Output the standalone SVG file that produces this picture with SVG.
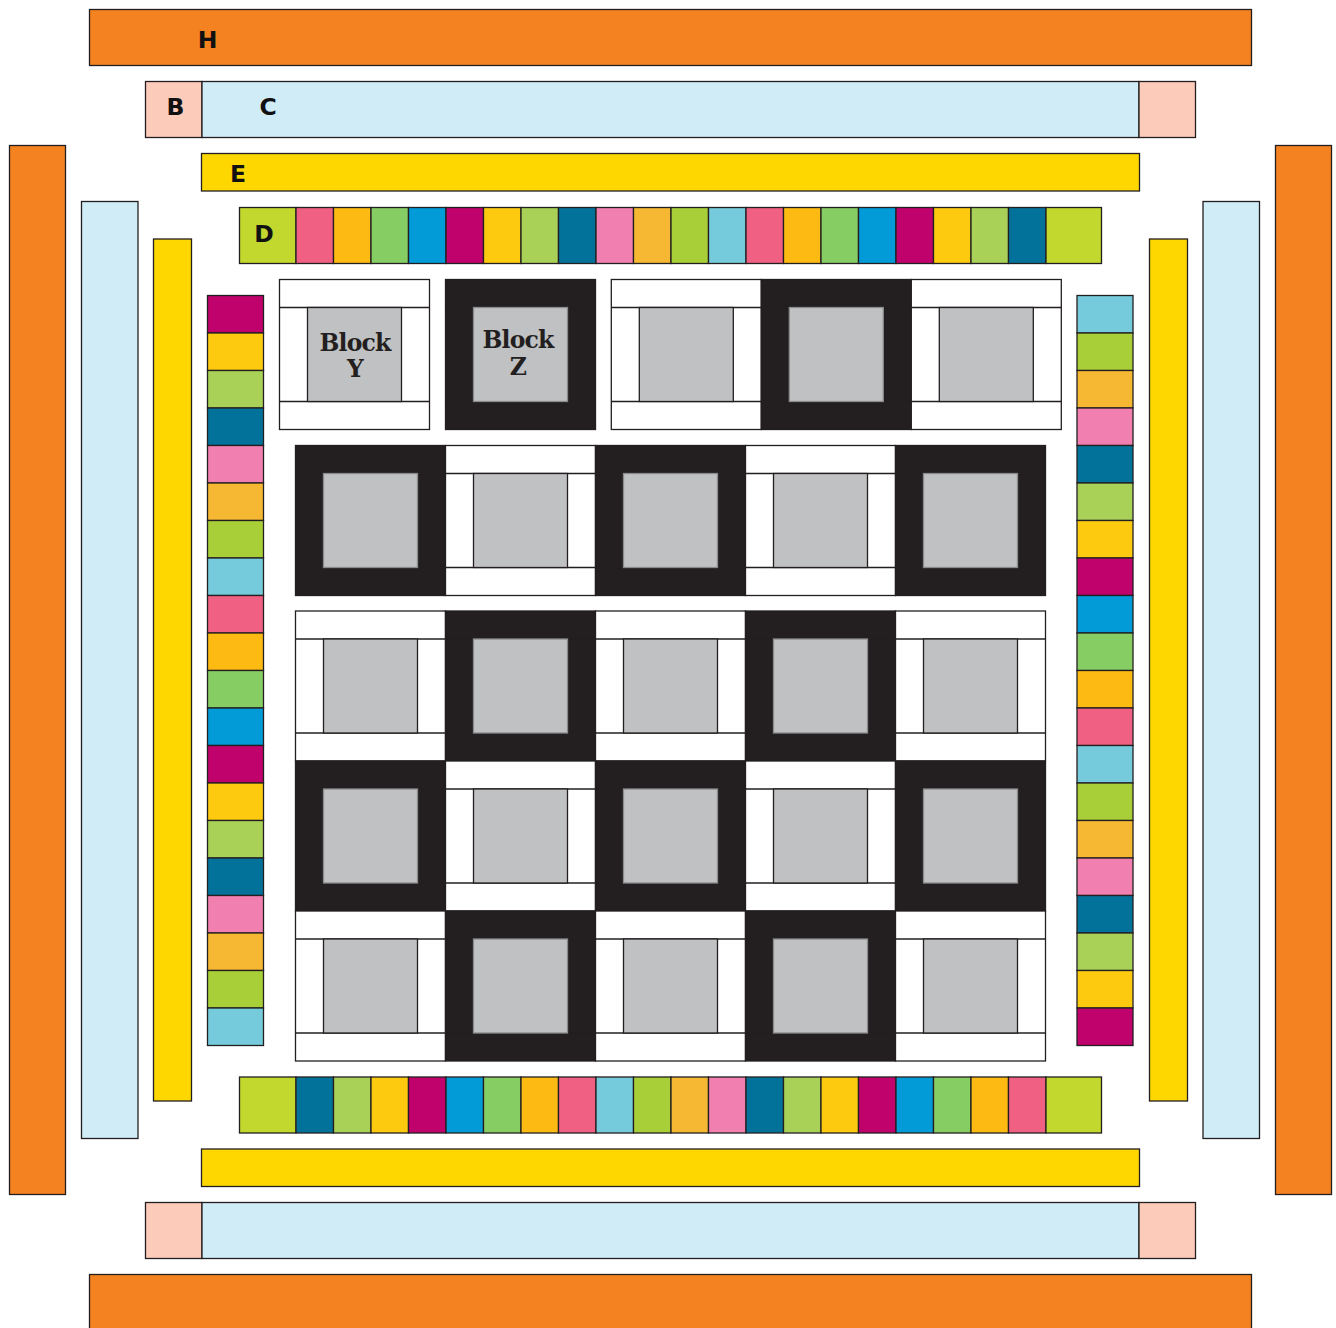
<svg xmlns="http://www.w3.org/2000/svg" xmlns:xlink="http://www.w3.org/1999/xlink" width="1336" height="1328" viewBox="0 0 1336 1328">
<style>
rect, line { stroke:#231f20; stroke-width:1.3; }
.or { fill:#F58220; }
.lb { fill:#D0ECF7; }
.pe { fill:#FDCBBA; }
.ye { fill:#FED700; }
.li { fill:#C2D82F; }
.P { fill:#F06083; }
.O { fill:#FDBA12; }
.G { fill:#86CE63; }
.Bl { fill:#029BD7; }
.M { fill:#C0026D; }
.Y2 { fill:#FDCA0F; }
.LG { fill:#A9D157; }
.T { fill:#03729B; }
.Pk { fill:#F180B0; }
.A { fill:#F6B833; }
.Ol { fill:#A9CF38; }
.Cy { fill:#75CBDB; }
.gr { fill:#C0C1C3; }
.wh { fill:#FFFFFF; }
.bk { fill:#231F20; }
.lbl { font-family:"DejaVu Sans","Liberation Sans",sans-serif; font-weight:bold; font-size:23.5px; fill:#111; text-anchor:middle; }
.blk { font-family:"DejaVu Serif","Liberation Serif",serif; font-weight:bold; font-size:23.5px; letter-spacing:-0.8px; fill:#231F20; text-anchor:middle; }
</style>
<defs>
  <g id="wblock">
    <rect class="wh" x="0" y="0" width="150" height="150"/>
    <line x1="0" y1="28" x2="150" y2="28"/>
    <line x1="0" y1="122" x2="150" y2="122"/>
    <rect class="gr" x="28" y="28" width="94" height="94"/>
  </g>
  <g id="bblock">
    <rect class="bk" x="0" y="0" width="150" height="150"/>
    <line x1="0" y1="28" x2="150" y2="28"/>
    <line x1="0" y1="122" x2="150" y2="122"/>
    <rect class="gr" x="28" y="28" width="94" height="94" style="stroke:#8a8a8c"/>
  </g>
</defs>
<rect x="0" y="0" width="1336" height="1328" fill="#FFFFFF" style="stroke:none"/>

<!-- outer borders -->
<g id="border-H-top"><rect class="or" x="89.5" y="9.5" width="1162" height="56"/><text class="lbl" x="207.5" y="48">H</text></g>
<g id="border-H-bottom"><rect class="or" x="89.5" y="1274.5" width="1162" height="60"/></g>
<g id="border-H-left"><rect class="or" x="9.5" y="145.5" width="56" height="1049"/></g>
<g id="border-H-right"><rect class="or" x="1275.5" y="145.5" width="56" height="1049"/></g>

<g id="border-C-top">
  <rect class="pe" x="145.5" y="81.5" width="56.5" height="56"/>
  <rect class="lb" x="202" y="81.5" width="937" height="56"/>
  <rect class="pe" x="1139" y="81.5" width="56.5" height="56"/>
  <text class="lbl" x="175.5" y="115">B</text>
  <text class="lbl" x="268" y="115">C</text>
</g>
<g id="border-C-bottom">
  <rect class="pe" x="145.5" y="1202.5" width="56.5" height="56"/>
  <rect class="lb" x="202" y="1202.5" width="937" height="56"/>
  <rect class="pe" x="1139" y="1202.5" width="56.5" height="56"/>
</g>
<g id="border-C-left"><rect class="lb" x="81.5" y="201.5" width="56.5" height="937"/></g>
<g id="border-C-right"><rect class="lb" x="1203" y="201.5" width="56.5" height="937"/></g>

<g id="border-E-top"><rect class="ye" x="201.5" y="153.5" width="938" height="37.5"/><text class="lbl" x="238" y="182">E</text></g>
<g id="border-E-bottom"><rect class="ye" x="201.5" y="1149" width="938" height="37.5"/></g>
<g id="border-E-left"><rect class="ye" x="153.5" y="239" width="38" height="862"/></g>
<g id="border-E-right"><rect class="ye" x="1149.5" y="239" width="38" height="862"/></g>

<!-- D top row -->
<g id="border-D-top">
  <rect class="li" x="239.5" y="207.5" width="56.5" height="56"/>
  <rect class="P" x="296" y="207.5" width="37.5" height="56"/>
  <rect class="O" x="333.5" y="207.5" width="37.5" height="56"/>
  <rect class="G" x="371" y="207.5" width="37.5" height="56"/>
  <rect class="Bl" x="408.5" y="207.5" width="37.5" height="56"/>
  <rect class="M" x="446" y="207.5" width="37.5" height="56"/>
  <rect class="Y2" x="483.5" y="207.5" width="37.5" height="56"/>
  <rect class="LG" x="521" y="207.5" width="37.5" height="56"/>
  <rect class="T" x="558.5" y="207.5" width="37.5" height="56"/>
  <rect class="Pk" x="596" y="207.5" width="37.5" height="56"/>
  <rect class="A" x="633.5" y="207.5" width="37.5" height="56"/>
  <rect class="Ol" x="671" y="207.5" width="37.5" height="56"/>
  <rect class="Cy" x="708.5" y="207.5" width="37.5" height="56"/>
  <rect class="P" x="746" y="207.5" width="37.5" height="56"/>
  <rect class="O" x="783.5" y="207.5" width="37.5" height="56"/>
  <rect class="G" x="821" y="207.5" width="37.5" height="56"/>
  <rect class="Bl" x="858.5" y="207.5" width="37.5" height="56"/>
  <rect class="M" x="896" y="207.5" width="37.5" height="56"/>
  <rect class="Y2" x="933.5" y="207.5" width="37.5" height="56"/>
  <rect class="LG" x="971" y="207.5" width="37.5" height="56"/>
  <rect class="T" x="1008.5" y="207.5" width="37.5" height="56"/>
  <rect class="li" x="1046" y="207.5" width="55.5" height="56"/>
  <text class="lbl" x="264" y="242">D</text>
</g>

<!-- D bottom row -->
<g id="border-D-bottom">
  <rect class="li" x="239.5" y="1077" width="56.5" height="56"/>
  <rect class="T" x="296" y="1077" width="37.5" height="56"/>
  <rect class="LG" x="333.5" y="1077" width="37.5" height="56"/>
  <rect class="Y2" x="371" y="1077" width="37.5" height="56"/>
  <rect class="M" x="408.5" y="1077" width="37.5" height="56"/>
  <rect class="Bl" x="446" y="1077" width="37.5" height="56"/>
  <rect class="G" x="483.5" y="1077" width="37.5" height="56"/>
  <rect class="O" x="521" y="1077" width="37.5" height="56"/>
  <rect class="P" x="558.5" y="1077" width="37.5" height="56"/>
  <rect class="Cy" x="596" y="1077" width="37.5" height="56"/>
  <rect class="Ol" x="633.5" y="1077" width="37.5" height="56"/>
  <rect class="A" x="671" y="1077" width="37.5" height="56"/>
  <rect class="Pk" x="708.5" y="1077" width="37.5" height="56"/>
  <rect class="T" x="746" y="1077" width="37.5" height="56"/>
  <rect class="LG" x="783.5" y="1077" width="37.5" height="56"/>
  <rect class="Y2" x="821" y="1077" width="37.5" height="56"/>
  <rect class="M" x="858.5" y="1077" width="37.5" height="56"/>
  <rect class="Bl" x="896" y="1077" width="37.5" height="56"/>
  <rect class="G" x="933.5" y="1077" width="37.5" height="56"/>
  <rect class="O" x="971" y="1077" width="37.5" height="56"/>
  <rect class="P" x="1008.5" y="1077" width="37.5" height="56"/>
  <rect class="li" x="1046" y="1077" width="55.5" height="56"/>
</g>

<!-- D left column -->
<g id="border-D-left">
  <rect class="M" x="207.5" y="295.5" width="56" height="37.5"/>
  <rect class="Y2" x="207.5" y="333" width="56" height="37.5"/>
  <rect class="LG" x="207.5" y="370.5" width="56" height="37.5"/>
  <rect class="T" x="207.5" y="408" width="56" height="37.5"/>
  <rect class="Pk" x="207.5" y="445.5" width="56" height="37.5"/>
  <rect class="A" x="207.5" y="483" width="56" height="37.5"/>
  <rect class="Ol" x="207.5" y="520.5" width="56" height="37.5"/>
  <rect class="Cy" x="207.5" y="558" width="56" height="37.5"/>
  <rect class="P" x="207.5" y="595.5" width="56" height="37.5"/>
  <rect class="O" x="207.5" y="633" width="56" height="37.5"/>
  <rect class="G" x="207.5" y="670.5" width="56" height="37.5"/>
  <rect class="Bl" x="207.5" y="708" width="56" height="37.5"/>
  <rect class="M" x="207.5" y="745.5" width="56" height="37.5"/>
  <rect class="Y2" x="207.5" y="783" width="56" height="37.5"/>
  <rect class="LG" x="207.5" y="820.5" width="56" height="37.5"/>
  <rect class="T" x="207.5" y="858" width="56" height="37.5"/>
  <rect class="Pk" x="207.5" y="895.5" width="56" height="37.5"/>
  <rect class="A" x="207.5" y="933" width="56" height="37.5"/>
  <rect class="Ol" x="207.5" y="970.5" width="56" height="37.5"/>
  <rect class="Cy" x="207.5" y="1008" width="56" height="37.5"/>
</g>

<!-- D right column -->
<g id="border-D-right">
  <rect class="Cy" x="1077" y="295.5" width="56" height="37.5"/>
  <rect class="Ol" x="1077" y="333" width="56" height="37.5"/>
  <rect class="A" x="1077" y="370.5" width="56" height="37.5"/>
  <rect class="Pk" x="1077" y="408" width="56" height="37.5"/>
  <rect class="T" x="1077" y="445.5" width="56" height="37.5"/>
  <rect class="LG" x="1077" y="483" width="56" height="37.5"/>
  <rect class="Y2" x="1077" y="520.5" width="56" height="37.5"/>
  <rect class="M" x="1077" y="558" width="56" height="37.5"/>
  <rect class="Bl" x="1077" y="595.5" width="56" height="37.5"/>
  <rect class="G" x="1077" y="633" width="56" height="37.5"/>
  <rect class="O" x="1077" y="670.5" width="56" height="37.5"/>
  <rect class="P" x="1077" y="708" width="56" height="37.5"/>
  <rect class="Cy" x="1077" y="745.5" width="56" height="37.5"/>
  <rect class="Ol" x="1077" y="783" width="56" height="37.5"/>
  <rect class="A" x="1077" y="820.5" width="56" height="37.5"/>
  <rect class="Pk" x="1077" y="858" width="56" height="37.5"/>
  <rect class="T" x="1077" y="895.5" width="56" height="37.5"/>
  <rect class="LG" x="1077" y="933" width="56" height="37.5"/>
  <rect class="Y2" x="1077" y="970.5" width="56" height="37.5"/>
  <rect class="M" x="1077" y="1008" width="56" height="37.5"/>
</g>

<!-- top row blocks -->
<g id="block-Y"><use xlink:href="#wblock" href="#wblock" x="279.5" y="279.5"/>
  <text class="blk" x="355" y="351">Block</text><text class="blk" x="355" y="377">Y</text></g>
<g id="block-Z"><use xlink:href="#bblock" href="#bblock" x="445.5" y="279.5"/>
  <text class="blk" x="518" y="348">Block</text><text class="blk" x="518" y="375">Z</text></g>
<g id="block-t3"><use xlink:href="#wblock" href="#wblock" x="611.3" y="279.5"/></g>
<g id="block-t4"><use xlink:href="#bblock" href="#bblock" x="761.3" y="279.5"/></g>
<g id="block-t5"><use xlink:href="#wblock" href="#wblock" x="911.3" y="279.5"/></g>

<!-- main grid row 1 -->
<g id="block-r1c1"><use xlink:href="#bblock" href="#bblock" x="295.5" y="445.5"/></g>
<g id="block-r1c2"><use xlink:href="#wblock" href="#wblock" x="445.5" y="445.5"/></g>
<g id="block-r1c3"><use xlink:href="#bblock" href="#bblock" x="595.5" y="445.5"/></g>
<g id="block-r1c4"><use xlink:href="#wblock" href="#wblock" x="745.5" y="445.5"/></g>
<g id="block-r1c5"><use xlink:href="#bblock" href="#bblock" x="895.5" y="445.5"/></g>
<!-- row 2 -->
<g id="block-r2c1"><use xlink:href="#wblock" href="#wblock" x="295.5" y="611"/></g>
<g id="block-r2c2"><use xlink:href="#bblock" href="#bblock" x="445.5" y="611"/></g>
<g id="block-r2c3"><use xlink:href="#wblock" href="#wblock" x="595.5" y="611"/></g>
<g id="block-r2c4"><use xlink:href="#bblock" href="#bblock" x="745.5" y="611"/></g>
<g id="block-r2c5"><use xlink:href="#wblock" href="#wblock" x="895.5" y="611"/></g>
<!-- row 3 -->
<g id="block-r3c1"><use xlink:href="#bblock" href="#bblock" x="295.5" y="761"/></g>
<g id="block-r3c2"><use xlink:href="#wblock" href="#wblock" x="445.5" y="761"/></g>
<g id="block-r3c3"><use xlink:href="#bblock" href="#bblock" x="595.5" y="761"/></g>
<g id="block-r3c4"><use xlink:href="#wblock" href="#wblock" x="745.5" y="761"/></g>
<g id="block-r3c5"><use xlink:href="#bblock" href="#bblock" x="895.5" y="761"/></g>
<!-- row 4 -->
<g id="block-r4c1"><use xlink:href="#wblock" href="#wblock" x="295.5" y="911"/></g>
<g id="block-r4c2"><use xlink:href="#bblock" href="#bblock" x="445.5" y="911"/></g>
<g id="block-r4c3"><use xlink:href="#wblock" href="#wblock" x="595.5" y="911"/></g>
<g id="block-r4c4"><use xlink:href="#bblock" href="#bblock" x="745.5" y="911"/></g>
<g id="block-r4c5"><use xlink:href="#wblock" href="#wblock" x="895.5" y="911"/></g>

<g id="connectors"></g>
</svg>
